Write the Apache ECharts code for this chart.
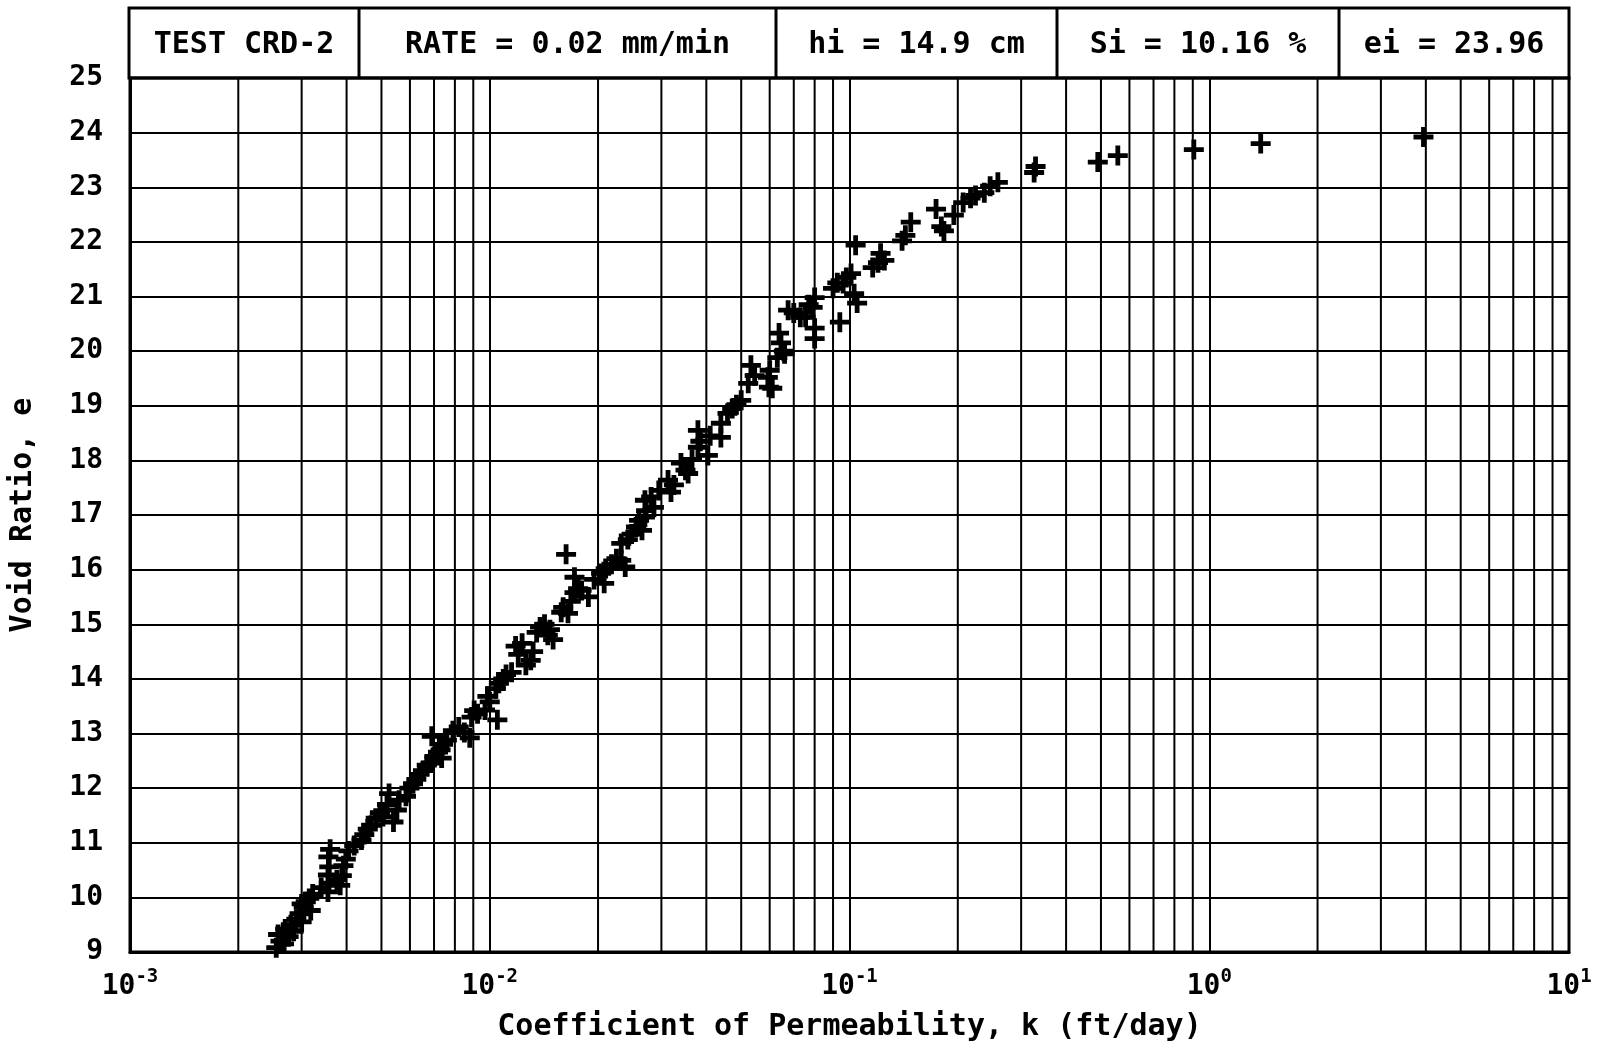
<!DOCTYPE html>
<html>
<head>
<meta charset="utf-8">
<script src="https://cdn.jsdelivr.net/npm/echarts@6/dist/echarts.min.js"></script>
<style>
html,body{margin:0;padding:0;background:#fff;}
#chart{width:1617px;height:1053px;}
</style>
</head>
<body>
<div id="chart"></div>
<script>
// ---- Data ----
const permeability = [
  0.00255,0.00262,0.00258,0.00268,0.00270,0.00276,0.00280,0.00285,0.00290,0.00296,0.00300,0.00304,0.00308,0.00300,0.00315,0.00318,0.00322,
  0.00340,0.00355,0.00357,0.00355,0.00358,0.00356,0.00360,0.00384,0.00388,0.00392,0.00376,0.00398,0.00405,0.00420,
  0.00440,0.00448,0.00458,0.00468,0.00482,0.00495,0.00505,0.00518,0.00525,0.00540,0.00552,0.00560,0.00585,0.00598,
  0.00612,0.00625,0.00638,0.00652,0.00668,0.00688,0.00690,0.00702,0.00718,0.00730,0.00742,0.00735,0.00760,
  0.00790,0.00820,0.00850,0.00880,0.00890,0.00905,0.00925,0.00970,0.00985,0.01000,0.01040,0.01050,0.01060,0.01090,0.01110,
  0.01150,0.01180,0.01200,0.01230,0.01260,0.01300,0.01320,0.01350,0.01380,0.01420,0.01450,0.01500,0.01470,
  0.01580,0.01600,0.01650,0.01630,0.01680,0.01720,0.01720,0.01760,0.01800,0.01880,0.01950,0.02040,0.02080,0.02100,
  0.02180,0.02250,0.02320,0.02320,0.02380,0.02420,0.02480,0.02550,0.02600,0.02700,0.02720,0.02650,
  0.02700,0.02810,0.02860,0.02950,0.03130,0.03190,0.03250,0.03400,0.03500,0.03560,0.03650,
  0.03790,0.03790,0.03850,0.04040,0.04100,0.04390,0.04390,0.04580,0.04720,0.04850,0.05000,
  0.05230,0.05320,0.05450,0.05930,0.05970,0.06100,0.06000,0.06300,0.06370,0.06570,0.06600,0.06450,
  0.06750,0.07000,0.07300,0.07550,0.07700,0.08000,0.08000,0.08000,0.07900,
  0.09400,0.09000,0.09250,0.09600,0.09800,0.10100,0.10400,0.10500,0.10300,0.11600,0.12000,0.12200,0.12500,
  0.14000,0.14300,0.14800,0.17400,0.18000,0.18300,0.19500,0.20700,0.21700,0.22400,0.23700,0.24600,0.25850,
  0.3260,0.3290,0.4900,0.5570,0.9060,1.3900,3.9400
];
const voidRatio = [
  9.08,9.20,9.32,9.15,9.42,9.28,9.50,9.38,9.60,9.70,9.55,9.82,9.92,9.88,9.98,9.76,10.06,
  10.18,10.10,10.26,10.41,10.56,10.74,10.88,10.22,10.40,10.58,10.32,10.70,10.85,10.95,
  11.05,11.15,11.25,11.32,11.45,11.55,11.48,11.70,11.90,11.38,11.60,11.78,11.85,12.00,
  12.08,12.16,12.25,12.32,12.42,12.46,12.95,12.58,12.66,12.70,12.80,12.55,12.88,
  13.05,13.12,13.02,12.92,13.30,13.42,13.36,13.43,13.68,13.58,13.82,13.25,13.92,14.00,14.08,
  14.12,14.60,14.45,14.65,14.25,14.34,14.50,14.85,14.95,15.00,14.80,14.72,14.90,
  15.22,15.31,15.20,16.28,15.42,15.58,15.86,15.65,15.62,15.50,15.82,15.93,15.75,16.02,
  16.10,16.20,16.48,16.17,16.05,16.55,16.65,16.78,16.90,16.96,17.08,16.72,
  17.27,17.33,17.14,17.45,17.64,17.42,17.55,17.95,17.82,17.76,18.02,
  18.24,18.55,18.35,18.09,18.45,18.42,18.68,18.86,18.95,19.02,19.10,
  19.41,19.74,19.55,19.52,19.34,19.32,19.65,19.88,20.33,20.00,19.95,20.15,
  20.75,20.70,20.62,20.62,20.85,20.98,20.42,20.23,20.80,
  20.53,21.15,21.25,21.24,21.35,21.42,21.94,20.88,21.05,21.53,21.62,21.79,21.66,
  22.02,22.12,22.36,22.60,22.28,22.20,22.49,22.72,22.80,22.85,22.90,23.02,23.09,
  23.27,23.38,23.46,23.58,23.69,23.80,23.92
];
// Intermediate vertical grid lines of the log axis (2..9 in each decade)
const minorGridValues = [
  0.002,0.003,0.004,0.005,0.006,0.007,0.008,0.009,
  0.02,0.03,0.04,0.05,0.06,0.07,0.08,0.09,
  0.2,0.3,0.4,0.5,0.6,0.7,0.8,0.9,
  2,3,4,5,6,7,8,9
];
const headerTexts = ['TEST CRD-2', 'RATE = 0.02 mm/min', 'hi = 14.9 cm', 'Si = 10.16 %', 'ei = 23.96'];
const xAxisTitle = 'Coefficient of Permeability, k (ft/day)';
const yAxisTitle = 'Void Ratio, e';
const yMin = 9, yMax = 25;

// ---- Layout ----
const FONT = '"DejaVu Sans Mono", "Liberation Mono", monospace';
const L = 129, R = 1569, T = 78, B = 952, HT = 8;
const dividers = [L, 359, 776, 1057, 1339, R];

const chart = echarts.init(document.getElementById('chart'), null, {renderer: 'canvas'});

const graphics = [];
graphics.push({type:'rect', shape:{x:L, y:HT, width:R-L, height:T-HT}, style:{fill:'none', stroke:'#000', lineWidth:3}, z:10});
for (let i = 1; i < dividers.length - 1; i++) {
  graphics.push({type:'line', shape:{x1:dividers[i], y1:HT, x2:dividers[i], y2:T}, style:{stroke:'#000', lineWidth:3}, z:10});
}
for (let i = 0; i < headerTexts.length; i++) {
  graphics.push({type:'text', x:(dividers[i]+dividers[i+1])/2, y:(HT+T)/2 + 2,
    style:{text:headerTexts[i], font:'bold 30px ' + FONT, fill:'#000', textAlign:'center', textVerticalAlign:'middle'}, z:10});
}

const crossPath = 'path://M3.8,0H6.2V3.8H10V6.2H6.2V10H3.8V6.2H0V3.8H3.8Z';

const option = {
  animation: false,
  backgroundColor: '#fff',
  grid: {left: L, right: 1617 - R, top: T, bottom: 1053 - B, show: true, borderColor: '#000', borderWidth: 3, backgroundColor: 'transparent'},
  xAxis: {
    type: 'log', logBase: 10, min: 0.001, max: 10,
    name: xAxisTitle, nameLocation: 'middle', nameGap: 60,
    nameTextStyle: {fontFamily: FONT, fontSize: 30, fontWeight: 'bold', color: '#000'},
    axisLine: {show: true, lineStyle: {color: '#000', width: 3}},
    axisTick: {show: false},
    splitLine: {show: true, lineStyle: {color: '#000', width: 2}},
    axisLabel: {
      margin: 16, color: '#000',
      formatter: function (v) {
        const ex = Math.round(Math.log10(v));
        return '{b|10}{s|' + ex + '}';
      },
      rich: {
        b: {fontFamily: FONT, fontSize: 28, fontWeight: 'bold', color: '#000', verticalAlign: 'bottom'},
        s: {fontFamily: FONT, fontSize: 19, fontWeight: 'bold', color: '#000', verticalAlign: 'top', padding: [0,0,14,0]}
      }
    }
  },
  yAxis: {
    type: 'value', min: yMin, max: yMax, interval: 1,
    name: yAxisTitle, nameLocation: 'middle', nameGap: 92, nameRotate: 90,
    nameTextStyle: {fontFamily: FONT, fontSize: 30, fontWeight: 'bold', color: '#000'},
    axisLine: {show: true, lineStyle: {color: '#000', width: 3}},
    axisTick: {show: false},
    splitLine: {show: true, lineStyle: {color: '#000', width: 2}},
    axisLabel: {margin: 27, color: '#000', fontFamily: FONT, fontSize: 28, fontWeight: 'bold'}
  },
  graphic: graphics,
  series: [
    {
      type: 'custom',
      silent: true,
      data: minorGridValues,
      encode: {x: 0},
      renderItem: function (params, api) {
        const v = api.value(0);
        const p1 = api.coord([v, yMin]);
        const p2 = api.coord([v, yMax]);
        return {type: 'line', shape: {x1: p1[0], y1: p1[1], x2: p2[0], y2: p2[1]},
          style: {stroke: '#000', lineWidth: 2}};
      },
      z: 1
    },
    {
      type: 'scatter',
      symbol: crossPath,
      symbolSize: 20,
      itemStyle: {color: '#000', opacity: 1},
      data: permeability.map((k, i) => [k, voidRatio[i]]),
      z: 5
    }
  ]
};
chart.setOption(option);
</script>
</body>
</html>
